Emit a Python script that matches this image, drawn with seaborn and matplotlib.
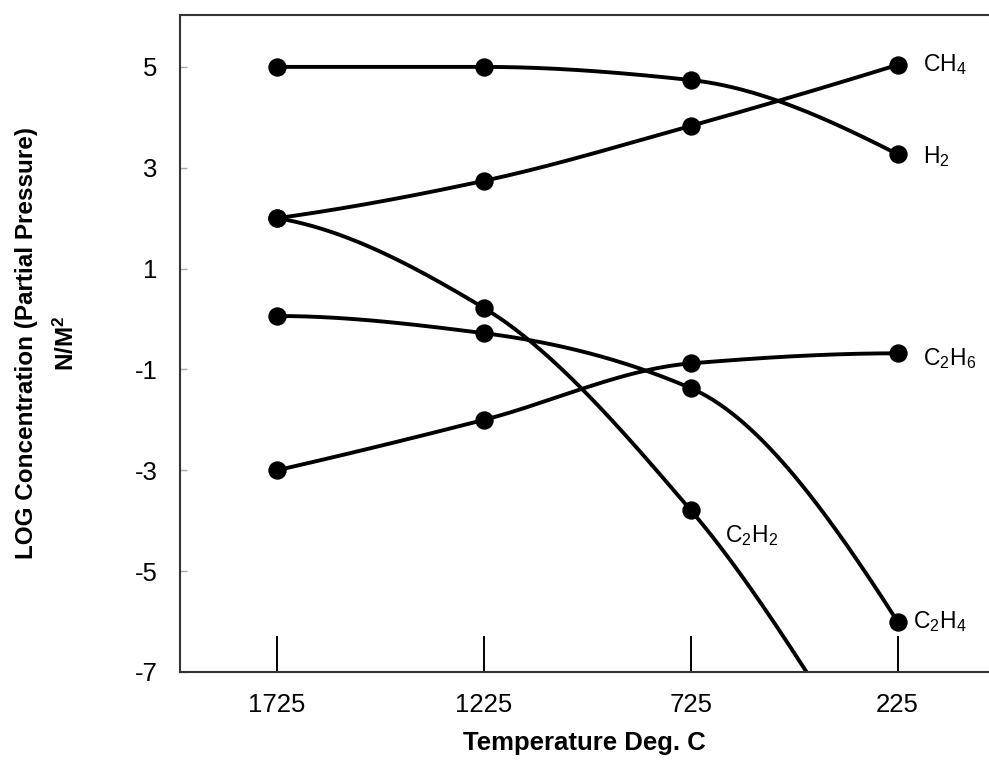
import numpy as np
import pandas as pd
import matplotlib
matplotlib.use("Agg")
import matplotlib.pyplot as plt
import seaborn as sns

# values (log partial pressure, N/M^2)
temps = [1725, 1225, 725, 225]
tick_labels = ["1725", "1225", "725", "225"]
ch4 = [2.0, 2.74, 3.83, 5.04]
h2 = [5.0, 5.0, 4.74, 3.27]
c2h6 = [-3.0, -2.0, -0.88, -0.68]
c2h4 = [0.06, -0.28, -1.37, -6.0]
c2h2 = [2.0, 0.22, -3.79]
# C2H2 keeps falling after 725 and leaves the frame near 445 deg (no marker)
c2h2_exit_temp = 445
c2h2_exit_val = -7.0

sns.set_style("white")
plt.rcParams["font.family"] = ["Liberation Sans", "DejaVu Sans"]
plt.rcParams["mathtext.default"] = "regular"
plt.rcParams["axes.unicode_minus"] = False
plt.rcParams["text.color"] = "black"
plt.rcParams["axes.labelcolor"] = "black"


def pchip(x, y, n=300):
    # monotone cubic through the read points, only used to draw smooth curves
    x = np.asarray(x, float)
    y = np.asarray(y, float)
    o = np.argsort(x)
    x, y = x[o], y[o]
    h = np.diff(x)
    d = np.diff(y) / h
    m = np.zeros_like(y)
    for k in range(1, len(x) - 1):
        if d[k - 1] * d[k] > 0:
            w1 = 2 * h[k] + h[k - 1]
            w2 = h[k] + 2 * h[k - 1]
            m[k] = (w1 + w2) / (w1 / d[k - 1] + w2 / d[k])

    def end(h0, h1, d0, d1):
        s = ((2 * h0 + h1) * d0 - h0 * d1) / (h0 + h1)
        if np.sign(s) != np.sign(d0):
            return 0.0
        if np.sign(d0) != np.sign(d1) and abs(s) > abs(3 * d0):
            return 3 * d0
        return s

    m[0] = end(h[0], h[1], d[0], d[1])
    m[-1] = end(h[-1], h[-2], d[-1], d[-2])
    xs = np.linspace(x[0], x[-1], n)
    i = np.clip(np.searchsorted(x, xs) - 1, 0, len(h) - 1)
    t = (xs - x[i]) / h[i]
    ys = ((2 * t**3 - 3 * t**2 + 1) * y[i] + (t**3 - 2 * t**2 + t) * h[i] * m[i]
          + (-2 * t**3 + 3 * t**2) * y[i + 1] + (t**3 - t**2) * h[i] * m[i + 1])
    return xs, ys


series = {
    "CH4": (temps, ch4),
    "H2": (temps, h2),
    "C2H6": (temps, c2h6),
    "C2H4": (temps, c2h4),
    "C2H2": (temps[:3], c2h2),
}

pts = pd.concat([pd.DataFrame({"temp": x, "val": y, "gas": g})
                 for g, (x, y) in series.items()], ignore_index=True)

curves = []
for g, (x, y) in series.items():
    x, y = list(x), list(y)
    if g == "C2H2":
        x.append(c2h2_exit_temp)
        y.append(c2h2_exit_val)
    xs, ys = pchip(x, y)
    curves.append(pd.DataFrame({"temp": xs, "val": ys, "gas": g}))
curves = pd.concat(curves, ignore_index=True)

fig = plt.figure(figsize=(9.89, 7.6), dpi=100)
ax = fig.add_axes([0.182, 0.1158, 0.818, 0.8645])

sns.lineplot(data=curves, x="temp", y="val", hue="gas", sort=False,
             estimator=None, palette={g: "black" for g in series},
             linewidth=2.8, legend=False, ax=ax)
sns.scatterplot(data=pts, x="temp", y="val", color="black", s=175,
                linewidth=0, zorder=3, ax=ax)

# species labels next to their curves
labels = {
    "CH4": ("CH$_4$", temps[3], ch4[3], (18, 0)),
    "H2": ("H$_2$", temps[3], h2[3], (18, -2)),
    "C2H6": ("C$_2$H$_6$", temps[3], c2h6[3], (18, -4)),
    "C2H4": ("C$_2$H$_4$", temps[3], c2h4[3], (11, 0)),
    "C2H2": ("C$_2$H$_2$", temps[2], c2h2[2], (25, -18)),
}
for g, (txt, x, y, off) in labels.items():
    ax.annotate(txt, (x, y), xytext=off, textcoords="offset points",
                ha="left", va="center", fontsize=16.5)

ax.set_xlim(1959.5, 4)
ax.set_ylim(-7, 6.03)
ax.set_xticks(temps)
ax.set_xticklabels(tick_labels)
ax.set_yticks([5, 3, 1, -1, -3, -5, -7])

ax.tick_params(axis="x", direction="in", length=26, width=1.4, color="black",
               labelcolor="black", labelsize=18.5, pad=15, bottom=True)
ax.tick_params(axis="y", direction="in", length=5, width=1, color="#aaaaaa",
               labelcolor="black", labelsize=18.5, pad=16, left=True)

for side in ["left", "top", "bottom"]:
    ax.spines[side].set_visible(True)
    ax.spines[side].set_color("#333333")
    ax.spines[side].set_linewidth(1.5)
ax.spines["right"].set_visible(False)

ax.set_xlabel("Temperature Deg. C", fontsize=18.5, fontweight="bold")
ax.xaxis.set_label_coords(0.5, -0.09)
ax.set_ylabel("LOG Concentration (Partial Pressure)\nN/M$^2$", fontsize=17.5,
              fontweight="bold", linespacing=1.8)
ax.yaxis.set_label_coords(-0.125, 0.5)

fig.savefig("out.png", dpi=100)
